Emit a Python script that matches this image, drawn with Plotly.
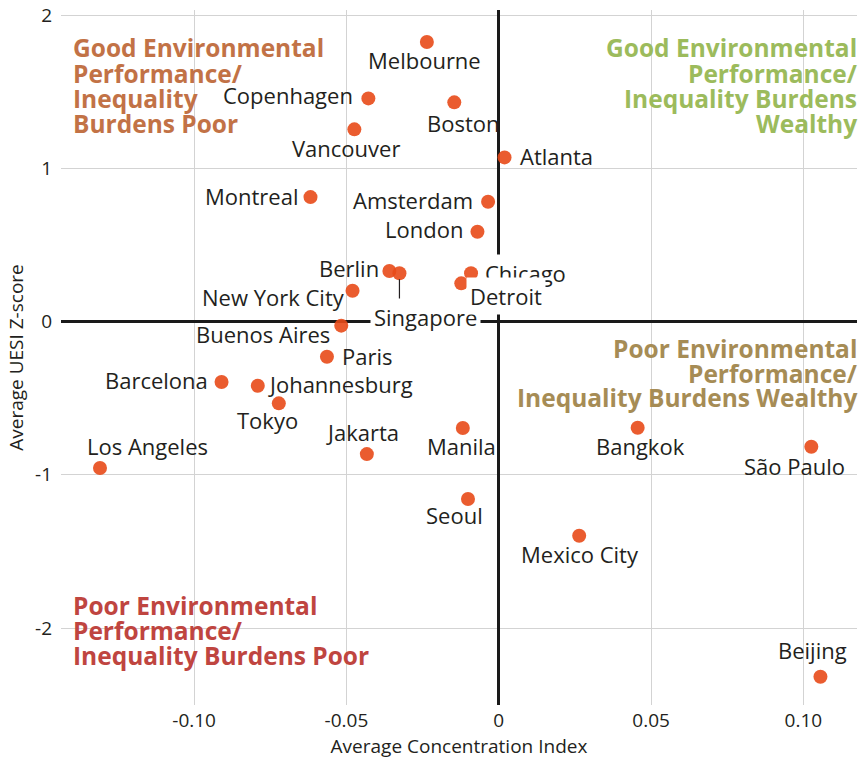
import plotly.graph_objects as go

# values
cities = ["Melbourne", "Copenhagen", "Boston", "Vancouver", "Atlanta", "Montreal",
          "Amsterdam", "London", "Berlin", "Singapore", "Chicago", "Detroit",
          "New York City", "Buenos Aires", "Paris", "Barcelona", "Johannesburg",
          "Tokyo", "Jakarta", "Los Angeles", "Manila", "Seoul", "Mexico City",
          "Bangkok", "São Paulo", "Beijing"]
conc_index = [-0.0236, -0.0428, -0.0146, -0.0474, 0.0019, -0.0618,
              -0.0035, -0.0070, -0.0359, -0.0326, -0.0091, -0.0123,
              -0.0480, -0.0517, -0.0564, -0.0910, -0.0791,
              -0.0722, -0.0433, -0.1309, -0.0118, -0.0101, 0.0264,
              0.0456, 0.1026, 0.1056]
uesi_z = [1.824, 1.456, 1.430, 1.254, 1.071, 0.812,
          0.782, 0.586, 0.330, 0.315, 0.315, 0.249,
          0.201, -0.027, -0.230, -0.395, -0.419,
          -0.534, -0.865, -0.956, -0.695, -1.158, -1.398,
          -0.693, -0.817, -2.318]

x_ticks = [-0.10, -0.05, 0, 0.05, 0.10]
x_ticktext = ["-0.10", "-0.05", "0", "0.05", "0.10"]
y_ticks = [-2, -1, 0, 1, 2]
y_ticktext = ["-2", "-1", "0", "1", "2"]

# label placement relative to each dot: (xanchor, dx px, dy px down)
label_pos = {
    "Melbourne": ("center", -2.5, 20), "Copenhagen": ("right", -14, -2),
    "Boston": ("center", 9, 22), "Vancouver": ("center", -8.5, 20),
    "Atlanta": ("left", 14, 0), "Montreal": ("right", -11, 0.5),
    "Amsterdam": ("right", -14, -0.5), "London": ("right", -13, -1.5),
    "Berlin": ("right", -9, -1.5), "Singapore": ("center", 26.5, 45.5),
    "Chicago": ("left", 10, 1), "Detroit": ("center", 44.5, 14.5),
    "New York City": ("right", -7, 7.5), "Buenos Aires": ("right", -10, 9.5),
    "Paris": ("left", 14, 0.5), "Barcelona": ("right", -13, -1),
    "Johannesburg": ("left", 9.5, -0.5), "Tokyo": ("center", -11, 18),
    "Jakarta": ("center", -4, -21), "Los Angeles": ("center", 47.5, -21),
    "Manila": ("center", -1.5, 19), "Seoul": ("center", -13, 17.5),
    "Mexico City": ("center", 1.3, 19.3), "Bangkok": ("center", 2.4, 19.8),
    "São Paulo": ("center", -17, 21), "Beijing": ("center", -7.7, -25),
}
white_bg = ["Singapore", "Chicago", "Detroit"]

quadrants = [
    (["Good Environmental", "Performance/", "Inequality", "Burdens Poor"],
     "#C27246", "left", [49.5, 75, 100, 125.5]),
    (["Good Environmental", "Performance/", "Inequality Burdens", "Wealthy"],
     "#9CBB5C", "right", [49.5, 75, 100, 125.5]),
    (["Poor Environmental", "Performance/", "Inequality Burdens Wealthy"],
     "#A68C55", "right", [349.5, 374.5, 399]),
    (["Poor Environmental", "Performance/", "Inequality Burdens Poor"],
     "#BF4540", "left", [606.5, 632, 657]),
]

FONT = "Open Sans"
W, H = 861, 760
ML, MR, MT, MB = 61, 4, 10, 55
PH = H - MT - MB
PLOT_BOTTOM = H - MB
Y_BOTTOM = -2.502
Y_TOP = 2 + (2 - Y_BOTTOM) * 5 / (PH - 5)  # keep the "2" gridline 5px below the top

fig = go.Figure()
fig.add_trace(go.Scatter(
    x=conc_index, y=uesi_z, mode="markers",
    marker=dict(size=14, color="#E84A18", opacity=0.9, line=dict(width=0)),
    hoverinfo="text", text=cities, showlegend=False,
))

for c, x, y in zip(cities, conc_index, uesi_z):
    anchor, dx, dy = label_pos[c]
    bg = c in white_bg
    fig.add_annotation(
        x=x, y=y, text=c, showarrow=False, xanchor=anchor, yanchor="middle",
        xshift=dx, yshift=-(dy - 1.5), font=dict(family=FONT, size=22, color="#231F20"),
        bgcolor="white" if bg else None, borderpad=3 if bg else 0,
    )

# leader from Singapore dot down to its label
si = cities.index("Singapore")
fig.add_shape(type="line", xref="x", yref="y", x0=conc_index[si], x1=conc_index[si],
              ysizemode="pixel", yanchor=uesi_z[si], y0=-6, y1=-34,
              line=dict(color="#231F20", width=1.2))

for lines, color, side, ys in quadrants:
    for line, py in zip(lines, ys):
        fig.add_annotation(
            xref="paper", yref="paper", x=0 if side == "left" else 1,
            y=(PLOT_BOTTOM - py + 1.5) / PH, text=line, showarrow=False,
            xanchor=side, yanchor="middle", xshift=10 if side == "left" else 2,
            font=dict(family=FONT, size=24.5, color=color, weight="bold"),
        )

fig.update_layout(
    width=W, height=H, margin=dict(l=ML, r=MR, t=MT, b=MB),
    plot_bgcolor="white", paper_bgcolor="white",
    font=dict(family=FONT, size=19, color="#231F20"),
    xaxis=dict(range=[-0.1437, 0.1176], tickvals=x_ticks, ticktext=x_ticktext,
               showgrid=True, gridcolor="#d3d3d3", gridwidth=1,
               zeroline=True, zerolinecolor="#1a1a1a", zerolinewidth=3,
               showline=False, ticks="", automargin=False, ticklabelstandoff=2,
               title=dict(text="Average Concentration Index", standoff=6, font=dict(size=19))),
    yaxis=dict(range=[Y_BOTTOM, Y_TOP], tickvals=y_ticks, ticktext=y_ticktext,
               showgrid=True, gridcolor="#d3d3d3", gridwidth=1,
               zeroline=True, zerolinecolor="#1a1a1a", zerolinewidth=3,
               showline=False, ticks="", ticklabelstandoff=8, automargin=False,
               title=dict(text="Average UESI Z-score", standoff=6, font=dict(size=19))),
)

fig.write_html("out.html", config={"displayModeBar": False},
               post_script="document.body.style.margin='0';document.body.style.overflow='hidden';")
